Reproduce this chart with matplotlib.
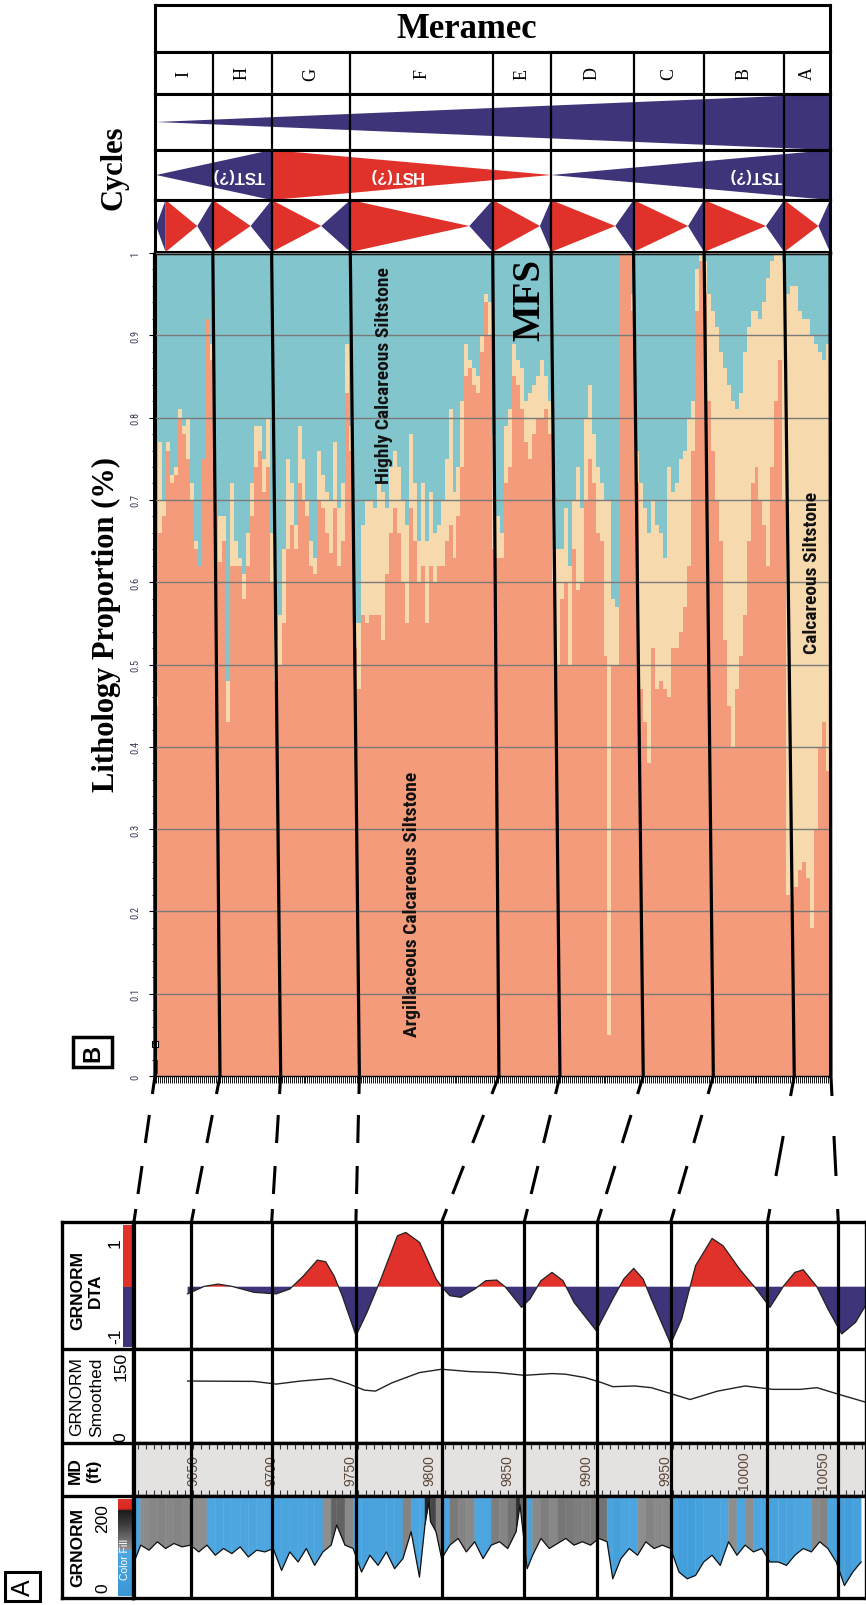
import numpy as np
import matplotlib
matplotlib.use('Agg')
import matplotlib.pyplot as plt
from matplotlib.patches import Polygon, Rectangle
from matplotlib.colors import LinearSegmentedColormap, Normalize
from matplotlib.collections import PolyCollection

plt.rcParams['font.family'] = ['Liberation Sans', 'DejaVu Sans']

# ---------------------------------------------------------------- data
intervals = ['I', 'H', 'G', 'F', 'E', 'D', 'C', 'B', 'A']

# Panel B: lithology proportions (regular log sampling, 2.5 ft)
litho_depth = 9625 + 2.5 * np.arange(170)
argillaceous_top = [
    0.45, 0.66, 0.68, 0.76, 0.72, 0.73, 0.80, 0.78, 0.75, 0.70,
    0.64, 0.62, 0.75, 0.92, 0.87, 0.70, 0.625, 0.65, 0.43, 0.62,
    0.62, 0.62, 0.58, 0.62, 0.68, 0.74, 0.76, 0.71, 0.74, 0.60,
    0.48, 0.50, 0.55, 0.64, 0.67, 0.64, 0.72, 0.70, 0.68, 0.62,
    0.61, 0.70, 0.69, 0.66, 0.636, 0.69, 0.62, 0.65, 0.83, 0.76,
    0.52, 0.47, 0.56, 0.55, 0.56, 0.56, 0.56, 0.53, 0.61, 0.66,
    0.69, 0.66, 0.60, 0.55, 0.69, 0.65, 0.60, 0.62, 0.55, 0.62,
    0.60, 0.62, 0.62, 0.65, 0.67, 0.63, 0.68, 0.74, 0.85, 0.86,
    0.84, 0.83, 0.88, 0.94, 0.90, 0.64, 0.63, 0.63, 0.72, 0.74,
    0.85, 0.84, 0.81, 0.77, 0.75, 0.78, 0.80, 0.80, 0.81, 0.78,
    0.60, 0.50, 0.58, 0.60, 0.50, 0.64, 0.59, 0.60, 0.70, 0.75,
    0.72, 0.66, 0.65, 0.51, 0.05, 0.50, 0.50, 1.00, 1.00, 1.00,
    0.93, 0.72, 0.47, 0.43, 0.38, 0.52, 0.47, 0.48, 0.47, 0.46,
    0.52, 0.52, 0.54, 0.57, 0.62, 0.76, 0.93, 0.99, 0.95, 0.82,
    0.76, 0.70, 0.65, 0.53, 0.45, 0.40, 0.47, 0.51, 0.56, 0.65,
    0.72, 0.74, 0.70, 0.67, 0.62, 0.74, 0.82, 0.87, 0.70, 0.22,
    0.21, 0.23, 0.25, 0.26, 0.24, 0.18, 0.30, 0.40, 0.43, 0.37]
calcareous_top = [
    0.46, 0.77, 0.70, 0.77, 0.73, 0.74, 0.81, 0.79, 0.80, 0.72,
    0.65, 0.62, 0.75, 0.92, 0.89, 0.70, 0.68, 0.68, 0.48, 0.72,
    0.65, 0.63, 0.61, 0.66, 0.72, 0.79, 0.79, 0.75, 0.80, 0.66,
    0.53, 0.56, 0.64, 0.75, 0.72, 0.67, 0.79, 0.75, 0.70, 0.65,
    0.63, 0.76, 0.73, 0.71, 0.70, 0.77, 0.69, 0.72, 0.89, 0.79,
    0.55, 0.55, 0.67, 0.70, 0.70, 0.69, 0.72, 0.71, 0.69, 0.74,
    0.76, 0.74, 0.70, 0.67, 0.78, 0.72, 0.65, 0.72, 0.65, 0.71,
    0.66, 0.67, 0.70, 0.75, 0.81, 0.71, 0.74, 0.82, 0.89, 0.87,
    0.86, 0.85, 0.90, 0.95, 0.94, 0.78, 0.68, 0.66, 0.79, 0.81,
    0.89, 0.87, 0.86, 0.82, 0.83, 0.84, 0.85, 0.87, 0.85, 0.82,
    0.70, 0.64, 0.64, 0.69, 0.62, 0.70, 0.74, 0.69, 0.80, 0.84,
    0.78, 0.74, 0.72, 0.70, 0.70, 0.58, 0.57, 1.00, 1.00, 1.00,
    0.95, 0.76, 0.72, 0.69, 0.66, 0.70, 0.67, 0.66, 0.63, 0.74,
    0.71, 0.72, 0.75, 0.76, 0.80, 0.82, 0.98, 1.00, 0.99, 0.95,
    0.93, 0.91, 0.88, 0.86, 0.84, 0.82, 0.81, 0.83, 0.88, 0.91,
    0.93, 0.93, 0.92, 0.94, 0.97, 0.99, 1.00, 1.00, 0.99, 0.95,
    0.96, 0.96, 0.93, 0.92, 0.92, 0.90, 0.89, 0.88, 0.87, 0.89]

# correlation lines in panel B (top of chart / base of chart), ft
corr_top_ft = [9625, 9661.7, 9698.7, 9748.2, 9837.8, 9874.5, 9926.4, 9970.8, 10021.2, 10050]
corr_base_ft = [9625.3, 9666.2, 9704.4, 9753.9, 9841.7, 9880.1, 9932.5, 9976.6, 10027.5, 10050.6]
# same surfaces in panel A (MD, ft)
corr_md_ft = [9612.5, 9649, 9700, 9753.5, 9808, 9860.5, 9907, 9953.5, 10015, 10060]

# cycles (ft along panel B)
short_bounds_ft = [9632, 9661.7, 9698.7, 9748.2, 9837.8, 9874.5, 9926.4, 9970.8, 10021.2, 10050]
short_turn_ft = [9651.9, 9685.5, 9729.9, 9823.1, 9867.5, 9914.9, 9960.7, 10009.7, 10042.7]
cycle_start_ft = 9626
mid_turns_ft = [9698.7, 9874.5]

# Panel A: logs
dta_md = [9646.6, 9657.2, 9666.0, 9674.7, 9688.7, 9702.8, 9711.5, 9720.3, 9729.0, 9734.3,
          9739.6, 9744.8, 9753.6, 9760.6, 9769.4, 9779.9, 9785.2, 9794.0, 9804.5, 9808.0,
          9813.2, 9820.2, 9829.0, 9836.0, 9843.0, 9848.3, 9858.8, 9864.1, 9871.1, 9878.1,
          9885.1, 9892.1, 9906.2, 9916.7, 9923.7, 9930.0, 9936.0, 9941.2, 9953.5, 9960.5,
          9969.3, 9979.8, 9986.8, 9997.3, 10007.9, 10016.6, 10025.4, 10032.4, 10037.7, 10046.4,
          10053.4, 10062.2, 10071.0, 10077.3]
dta_val = [-0.12, 0.006, 0.044, 0.006, -0.094, -0.12, -0.04, 0.183, 0.444, 0.417,
           0.183, -0.15, -0.817, -0.428, 0.128, 0.85, 0.906, 0.739, 0.128, 0.0,
           -0.15, -0.178, -0.04, 0.10, 0.111, 0.0, -0.344, -0.206, 0.10, 0.239,
           0.10, -0.261, -0.733, -0.206, 0.128, 0.306, 0.128, -0.206, -0.956, -0.539,
           0.35, 0.806, 0.683, 0.294, -0.039, -0.344, 0.017, 0.239, 0.283, 0.0,
           -0.372, -0.789, -0.594, -0.317]

smooth_md = [9646.6, 9688.7, 9702.8, 9718.5, 9737.8, 9748.3, 9758.9, 9765.9, 9776.4, 9793.9,
             9808.0, 9825.5, 9843.0, 9860.6, 9878.1, 9886.9, 9899.1, 9909.7, 9916.7, 9930.7,
             9941.2, 9951.8, 9965.8, 9983.3, 10000.8, 10018.4, 10035.9, 10046.4, 10060.5, 10077.3]
smooth_val = [98.9, 98.3, 94.0, 98.9, 103.0, 95.0, 84.4, 82.8, 96.0, 112.4,
              117.7, 114.0, 112.4, 108.0, 110.8, 109.7, 104.4, 96.3, 89.9, 91.0,
              88.3, 80.2, 69.4, 82.8, 91.0, 85.6, 85.6, 88.3, 77.5, 65.2]

gr_md = [9612.6, 9616.8, 9622.1, 9627.4, 9632.6, 9637.9, 9643.1, 9648.4, 9653.7, 9658.9,
         9664.2, 9669.4, 9674.7, 9680.0, 9685.2, 9690.5, 9695.7, 9701.0, 9706.3, 9711.5,
         9716.8, 9722.0, 9727.3, 9732.6, 9737.8, 9741.3, 9746.6, 9751.8, 9757.1, 9762.4,
         9767.6, 9772.9, 9778.1, 9783.4, 9788.6, 9793.9, 9797.4, 9799.9, 9800.9, 9804.4,
         9808.0, 9813.2, 9818.5, 9823.7, 9829.0, 9834.3, 9839.5, 9844.8, 9850.0, 9855.3,
         9857.8, 9862.3, 9865.8, 9871.1, 9876.4, 9881.6, 9886.9, 9892.1, 9897.4, 9902.6,
         9907.9, 9913.1, 9916.7, 9921.9, 9927.2, 9932.5, 9937.7, 9943.0, 9948.2, 9953.5,
         9958.8, 9964.0, 9969.3, 9974.5, 9979.8, 9985.0, 9990.3, 9995.6, 10000.8, 10006.1,
         10011.4, 10016.6, 10021.9, 10027.1, 10032.4, 10037.7, 10042.9, 10048.2, 10053.4, 10058.7,
         10063.9, 10069.2, 10074.5]
gr_val = [69.4, 103.8, 93.5, 110.7, 96.9, 107.2, 100.3, 103.8, 90.0, 103.8,
          83.2, 96.9, 86.6, 100.3, 79.7, 93.5, 90.0, 96.9, 52.2, 90.0,
          69.4, 96.9, 62.5, 90.0, 103.8, 145.0, 103.8, 96.9, 48.8, 83.2,
          62.5, 90.0, 55.7, 76.3, 131.3, 38.5, 145.0, 192.0, 151.9, 131.3,
          76.3, 103.8, 117.5, 90.0, 110.7, 76.3, 103.8, 110.7, 96.9, 131.3,
          186.0, 55.7, 83.2, 117.5, 96.9, 107.2, 117.5, 103.8, 110.7, 103.8,
          117.5, 110.7, 35.1, 76.3, 96.9, 83.2, 110.7, 96.9, 103.8, 96.9,
          48.8, 35.1, 41.9, 69.4, 83.2, 62.5, 110.7, 83.2, 103.8, 90.0,
          96.9, 69.4, 69.4, 62.5, 83.2, 96.9, 90.0, 110.7, 96.9, 69.4,
          21.3, 48.8, 69.4]
md_labels = [9650, 9700, 9750, 9800, 9850, 9900, 9950, 10000, 10050]

# ---------------------------------------------------------------- style
SALMON = '#F39B7A'
BEIGE = '#F6D9AC'
TEAL = '#82C5CD'
NAVY = '#3D3479'
RED = '#E0322B'
NARROW = ['Liberation Sans Narrow', 'Roboto Condensed', 'DejaVu Sans']
SERIF = ['Liberation Serif', 'DejaVu Serif']

W, H = 866, 1606
fig = plt.figure(figsize=(W / 100, H / 100), dpi=100)


def px_axes(x0, y0, x1, y1, z=1):
    a = fig.add_axes([x0 / W, 1 - y1 / H, (x1 - x0) / W, (y1 - y0) / H], zorder=z)
    return a


def style_box(a, lw=2.2):
    a.set_xticks([]); a.set_yticks([])
    for s in a.spines.values():
        s.set_linewidth(lw); s.set_color('black')


XL, XR = 154.5, 830
DLIM = (litho_depth[0], litho_depth[-1] + 2.5)

# ---------------------------------------------------------------- panel B header
ax_mer = px_axes(XL, 6, XR, 53)
style_box(ax_mer)
ax_mer.text(0.462, 0.5, 'Meramec', transform=ax_mer.transAxes, ha='center', va='center',
            fontsize=25, fontweight='bold', family=SERIF)

ax_let = px_axes(XL, 53, XR, 95)
ax_let.set_xlim(*DLIM); ax_let.set_ylim(0, 1)
style_box(ax_let)
for k, lab in enumerate(intervals):
    c = 0.5 * (corr_top_ft[k] + corr_top_ft[k + 1])
    ax_let.text(c, 0.5, lab, rotation=90, ha='center', va='center', fontsize=13, family=SERIF)

ax_long = px_axes(XL, 95, XR, 151)
ax_mid = px_axes(XL, 151, XR, 201)
ax_short = px_axes(XL, 201, XR, 253)
for a in (ax_long, ax_mid, ax_short):
    a.set_xlim(*DLIM); a.set_ylim(0, 1)
    style_box(a)

ax_long.add_patch(Polygon([(cycle_start_ft, 0.5), (DLIM[1], 1), (DLIM[1], 0)], closed=True,
                          fc=NAVY, ec='none'))
t1, t2 = mid_turns_ft
ax_mid.add_patch(Polygon([(cycle_start_ft, 0.5), (t1, 1), (t1, 0)], fc=NAVY, ec='none'))
ax_mid.add_patch(Polygon([(t1, 1), (t1, 0), (t2, 0.5)], fc=RED, ec='none'))
ax_mid.add_patch(Polygon([(t2, 0.5), (DLIM[1], 1), (DLIM[1], 0)], fc=NAVY, ec='none'))
txt_kw = dict(rotation=180, ha='center', va='center', color='white', fontsize=12, fontweight='bold')
ax_mid.text(9678, 0.5, 'TST(?)', **txt_kw)
ax_mid.text(9777, 0.5, 'HST(?)', **txt_kw)
ax_mid.text(10003, 0.5, 'TST(?)', **txt_kw)

ax_short.add_patch(Polygon([(cycle_start_ft, 0.5), (short_bounds_ft[0], 1), (short_bounds_ft[0], 0)],
                           fc=NAVY, ec='none'))
for k in range(len(short_turn_ft)):
    b0, b1, tp = short_bounds_ft[k], short_bounds_ft[k + 1], short_turn_ft[k]
    ax_short.add_patch(Polygon([(b0, 1), (b0, 0), (tp, 0.5)], fc=RED, ec='none'))
    ax_short.add_patch(Polygon([(tp, 0.5), (b1, 1), (b1, 0)], fc=NAVY, ec='none'))

for a in (ax_let, ax_long, ax_mid, ax_short):
    for b in corr_top_ft[1:-1]:
        a.axvline(b, color='black', lw=1.6, zorder=5)

# ---------------------------------------------------------------- panel B lithology
ax = px_axes(XL, 254, XR, 1077)
dext = np.append(litho_depth, DLIM[1])
s = np.append(argillaceous_top, argillaceous_top[-1])
b = np.append(calcareous_top, calcareous_top[-1])
ax.fill_between(dext, 0, s, step='post', color=SALMON, lw=0)
ax.fill_between(dext, s, b, step='post', color=BEIGE, lw=0)
ax.fill_between(dext, b, 1, step='post', color=TEAL, lw=0)
ax.set_xlim(*DLIM); ax.set_ylim(0, 1)
ax.set_yticks(np.round(np.arange(0, 1.01, 0.1), 1))
ax.set_yticklabels(['0'] + ['%.1f' % v for v in np.arange(0.1, 0.95, 0.1)] + ['1'],
                   rotation=90, va='center', fontsize=7.5, color='#3c3c5a', family=NARROW)
ax.set_yticks(np.arange(0, 1.001, 0.02), minor=True)
ax.tick_params(axis='y', which='major', length=4, width=0.8, pad=6)
ax.tick_params(axis='y', which='minor', length=2.5, width=0.6)
ax.yaxis.grid(True, which='major', color='#7a7a7a', lw=1.0)
ax.set_axisbelow(False)
ax.set_xticks(np.arange(DLIM[0], DLIM[1] + 0.01, 1.25))
ax.tick_params(axis='x', length=5, width=0.7, color='#111111', labelbottom=False, direction='out')
for sp in ('left', 'right'):
    ax.spines[sp].set_linewidth(2.2)
ax.spines['top'].set_linewidth(2.5)
ax.spines['bottom'].set_linewidth(1.0)
ax.add_patch(Rectangle((9626.2, 0.002), 1.0, 0.017, fc=NAVY, ec='none'))
ax.plot([DLIM[0] + 0.5], [0.039], marker='s', ms=4, mfc='white', mec='black', mew=0.8, clip_on=False)

lab_kw = dict(rotation=90, ha='center', va='center', fontsize=14, fontweight='bold',
              family=NARROW, color='#111111')
ax.text(9769.4, 0.852, 'Highly Calcareous Siltstone', **lab_kw)
ax.text(9787, 0.21, 'Argillaceous Calcareous Siltstone', **lab_kw)
ax.text(10038.7, 0.612, 'Calcareous Siltstone', **lab_kw)
ax.text(9861.3, 0.944, 'MFS', rotation=90, ha='center', va='center', fontsize=28,
        fontweight='bold', family=SERIF)

# ---------------------------------------------------------------- panel A
AXL, AXR = 133, 866
MDLIM = (9611.9, 10077.6)
ax_dta = px_axes(AXL, 1223, AXR, 1350)
ax_sm = px_axes(AXL, 1350, AXR, 1444)
ax_md = px_axes(AXL, 1444, AXR, 1497)
ax_gr = px_axes(AXL, 1497, AXR, 1599)
for a in (ax_dta, ax_sm, ax_md, ax_gr):
    a.set_xlim(*MDLIM)
    style_box(a, lw=2.4)

dmd = np.array(dta_md); dv = np.array(dta_val)
ax_dta.set_ylim(-1.04, 1.08)
ax_dta.fill_between(dmd, 0, dv, where=dv >= 0, interpolate=True, color=RED, lw=0)
ax_dta.fill_between(dmd, 0, dv, where=dv <= 0, interpolate=True, color=NAVY, lw=0)
ax_dta.plot(dmd, dv, color='#222222', lw=0.9)

ax_sm.set_ylim(0, 150)
ax_sm.plot(smooth_md, smooth_val, color='#222222', lw=1.0)

ax_md.set_ylim(0, 1)
ax_md.set_facecolor('#E4E1E1')
for lab in md_labels:
    ax_md.text(lab, 0.5, str(lab), rotation=90, ha='center', va='center', fontsize=10,
               color='#5b4636')
tk = np.arange(9615, 10077, 5)
ax_md.vlines(tk, 0.88, 1.0, color='#333333', lw=0.8)
ax_md.vlines(tk, 0.0, 0.12, color='#333333', lw=0.8)

gr_cmap = LinearSegmentedColormap.from_list('grfill', [
    (0.0, '#3B98D8'), (0.47, '#4DA6DF'), (0.48, '#909090'), (0.75, '#3A3A3A'),
    (0.89, '#1A1A1A'), (0.90, '#D8281E'), (1.0, '#E0302A')])
gr_norm = Normalize(0, 200)
ax_gr.set_ylim(-4.1, 204.1)
gm = np.array(gr_md); gv = np.array(gr_val)
polys, cols = [], []
for i in range(len(gm) - 1):
    polys.append([(gm[i], gv[i]), (gm[i + 1], gv[i + 1]), (gm[i + 1], 206), (gm[i], 206)])
    cols.append(gr_cmap(gr_norm(0.5 * (gv[i] + gv[i + 1]))))
ax_gr.add_collection(PolyCollection(polys, facecolors=cols, edgecolors=cols, linewidths=0.3))
ax_gr.plot(gm, gv, color='#111111', lw=0.9)

# header column of panel A
axh = px_axes(61.7, 1223, AXL, 1599)
axh.set_xlim(61.7, AXL); axh.set_ylim(1599, 1223)
style_box(axh, lw=2.4)
for yy in (1350, 1444, 1497):
    axh.axhline(yy, color='black', lw=2.4)
axh.add_patch(Rectangle((123.3, 1226), 8.4, 61.7, fc=RED, ec='none'))
axh.add_patch(Rectangle((123.3, 1287.7), 8.4, 60, fc=NAVY, ec='none'))
grad = np.linspace(200, 0, 120).reshape(-1, 1)
axh.imshow(grad, cmap=gr_cmap, norm=gr_norm, extent=(118.3, 131.7, 1597, 1500), aspect='auto', zorder=2)
axh.set_xlim(61.7, AXL); axh.set_ylim(1599, 1223)
hk = dict(rotation=90, ha='center', va='center', fontsize=12.5)
axh.text(77.5, 1291, 'GRNORM', fontweight='bold', **hk)
axh.text(95.5, 1291, 'DTA', fontweight='bold', **hk)
axh.text(115.5, 1243, '1', **hk)
axh.text(115.5, 1336, '-1', **hk)
axh.text(76.5, 1397, 'GRNORM', **hk)
axh.text(96.5, 1397, 'Smoothed', **hk)
axh.text(120.8, 1437, '0', **hk)
axh.text(120.8, 1366, '150', **hk)
axh.text(75, 1471, 'MD', fontweight='bold', **hk)
axh.text(94, 1471, '(ft)', fontweight='bold', **hk)
axh.text(78, 1548, 'GRNORM', fontweight='bold', **hk)
axh.text(103, 1588, '0', **hk)
axh.text(103, 1519, '200', **hk)
axh.text(125, 1560, 'Color Fill', rotation=90, ha='center', va='center', fontsize=7.5,
         color='white', zorder=3)

# ---------------------------------------------------------------- overlay
ov = fig.add_axes([0, 0, 1, 1], zorder=50)
ov.set_xlim(0, W); ov.set_ylim(H, 0); ov.axis('off')
ov.patch.set_alpha(0)


def to_px(a, x, y):
    d = a.transData.transform((x, y))
    return d[0], H - d[1]


for k in range(len(corr_top_ft)):
    xt, yt = to_px(ax, corr_top_ft[k], 1.0)
    xb, yb = to_px(ax, corr_base_ft[k], 0.0)
    ov.plot([xt, xb], [yt, yb], color='black', lw=2.3, solid_capstyle='butt')
    xa, ya = to_px(ax_dta, corr_md_ft[k], 1.08)
    yp = to_px(ax_gr, corr_md_ft[k], -4.1)[1]
    ov.plot([xa, xa], [ya, yp], color='black', lw=2.3, solid_capstyle='butt')
    if k < 8:
        segs = [(yb, 1095), (1116, 1144), (1167, 1195), (1210, ya)]
    else:
        segs = [(yb, 1097), (1137, 1177), (1210, ya)]
    for y0, y1 in segs:
        x0 = xb + (xa - xb) * (y0 - yb) / (ya - yb)
        x1 = xb + (xa - xb) * (y1 - yb) / (ya - yb)
        ov.plot([x0, x1], [y0, y1], color='black', lw=2.2, solid_capstyle='butt')

ov.text(114, 168, 'Cycles', rotation=90, ha='center', va='center', fontsize=22,
        fontweight='bold', family=SERIF)
ov.text(106, 625, 'Lithology Proportion (%)', rotation=90, ha='center', va='center',
        fontsize=22, fontweight='bold', family=SERIF)
ov.add_patch(Rectangle((73, 1038), 39, 30, fill=False, lw=2.5, ec='black'))
ov.text(92.5, 1053, 'B', rotation=90, ha='center', va='center', fontsize=17, fontweight='bold')
ov.add_patch(Rectangle((5, 1573), 35, 29, fill=False, lw=2.2, ec='black'))
ov.text(22.5, 1588, 'A', rotation=90, ha='center', va='center', fontsize=18)

fig.savefig('out.png', dpi=100)
